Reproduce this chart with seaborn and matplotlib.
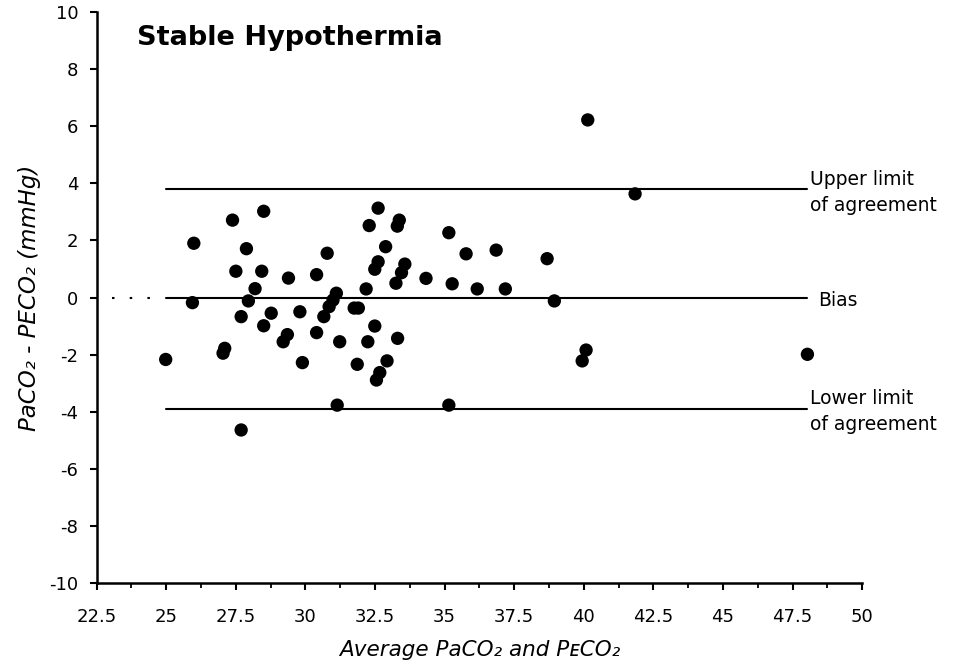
import matplotlib
matplotlib.use("Agg")
import matplotlib.pyplot as plt
import seaborn as sns
import pandas as pd
from matplotlib.ticker import MultipleLocator

avg_co2 = [25.99, 25.94, 24.98, 27.38, 28.50, 27.88, 27.50, 28.43, 28.19, 27.95,
           27.69, 28.77, 28.50, 29.39, 30.40, 30.78, 29.80, 30.40, 27.10, 27.04,
           29.35, 29.20, 29.89, 27.69, 31.14, 30.66, 30.85, 30.99, 31.11, 31.23,
           31.75, 31.90, 31.86, 32.18, 32.29, 32.61, 32.49, 32.24, 32.88, 32.61,
           32.49, 32.93, 32.67, 32.55, 33.37, 33.30, 33.57, 33.45, 33.25, 33.31,
           34.33, 35.15, 35.27, 35.15, 35.77, 36.17, 36.85, 37.18, 38.68, 38.94,
           40.08, 39.94, 40.14, 41.84, 48.03]
diff_co2 = [1.90, -0.18, -2.17, 2.71, 3.02, 1.71, 0.92, 0.92, 0.31, -0.12,
            -0.67, -0.55, -0.99, 0.68, 0.80, 1.55, -0.50, -1.23, -1.78, -1.95,
            -1.30, -1.55, -2.28, -4.64, -3.77, -0.67, -0.32, -0.09, 0.15, -1.55,
            -0.37, -0.37, -2.34, 0.30, 2.52, 3.13, -1.00, -1.55, 1.78, 1.25,
            0.99, -2.22, -2.63, -2.89, 2.71, 2.50, 1.17, 0.87, 0.50, -1.43,
            0.67, 2.27, 0.48, -3.77, 1.53, 0.30, 1.66, 0.30, 1.36, -0.12,
            -1.84, -2.22, 6.22, 3.63, -1.99]

bias = 0.0
upper_loa = 3.8
lower_loa = -3.9
line_x = [25.0, 48.0]
dotted_x = [23.04, 24.6]
line_labels = ["Upper limit\nof agreement", "Bias", "Lower limit\nof agreement"]

x_ticks = [22.5, 25, 27.5, 30, 32.5, 35, 37.5, 40, 42.5, 45, 47.5, 50]
x_tick_labels = ["22.5", "25", "27.5", "30", "32.5", "35", "37.5", "40", "42.5", "45", "47.5", "50"]
y_ticks = [-10, -8, -6, -4, -2, 0, 2, 4, 6, 8, 10]

df = pd.DataFrame({"avg": avg_co2, "diff": diff_co2})

sns.set_theme(style="ticks")
fam = ["DejaVu Sans"]
plt.rcParams["font.family"] = fam
plt.rcParams["axes.unicode_minus"] = False
plt.rcParams["text.color"] = "black"
plt.rcParams["axes.labelcolor"] = "black"

fig = plt.figure(figsize=(9.57, 6.66), dpi=100)
ax = fig.add_axes([0.101, 0.1246, 0.80, 0.8574])

sns.scatterplot(data=df, x="avg", y="diff", ax=ax, color="black", s=92,
                edgecolor="none", linewidth=0, zorder=3)

for yv in [upper_loa, bias, lower_loa]:
    ax.plot(line_x, [yv, yv], color="black", lw=1.5, zorder=2)
ax.plot(dotted_x, [bias, bias], color="black", lw=1.5, linestyle=(0, (1.2, 7.3)))

ax.text(48.14, 3.68, line_labels[0], fontsize=13.5, va="center", ha="left",
        linespacing=1.45, color="black")
ax.text(48.42, -0.09, line_labels[1], fontsize=13.5, va="center", ha="left",
        color="black")
ax.text(48.14, -3.98, line_labels[2], fontsize=13.5, va="center", ha="left",
        linespacing=1.45, color="black")

ax.set_xlim(22.5, 50)
ax.set_ylim(-10, 10)
ax.set_xticks(x_ticks)
ax.set_xticklabels(x_tick_labels)
ax.xaxis.set_minor_locator(MultipleLocator(1.25))
ax.set_yticks(y_ticks)

ax.tick_params(axis="both", which="major", direction="out", length=5.2, width=1.5,
               labelsize=13, color="black", labelcolor="black")
ax.tick_params(axis="x", which="major", pad=13)
ax.tick_params(axis="y", which="major", pad=8)
ax.tick_params(axis="x", which="minor", direction="out", length=3.8, width=1.3, color="black")

for side in ["top", "right"]:
    ax.spines[side].set_visible(False)
for side in ["left", "bottom"]:
    ax.spines[side].set_color("black")
    ax.spines[side].set_linewidth(1.8)

ax.set_xlabel("Average PaCO\u2082 and P\u1d07CO\u2082", fontsize=15.5, style="italic",
              labelpad=10, color="black")
ax.set_ylabel("PaCO\u2082 - PECO\u2082 (mmHg)", fontsize=16.5, style="italic",
              labelpad=6, color="black")

ax.text(23.94, 9.09, "Stable Hypothermia", fontsize=19.5, fontweight="bold",
        ha="left", va="center", color="black")

fig.savefig("out.png", dpi=100)
